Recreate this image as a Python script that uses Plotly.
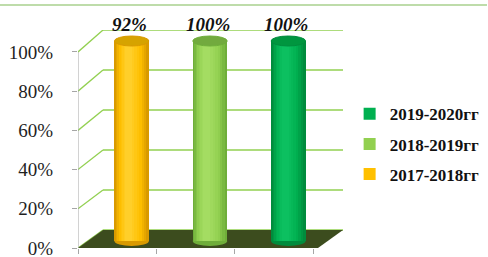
import plotly.graph_objects as go

# ---- data ----
SERIES = ["2017-2018гг", "2018-2019гг", "2019-2020гг"]
BAR_HEIGHTS = [100, 100, 100]          # heights as drawn
LABELS = ["92%", "100%", "100%"]       # data labels as printed
Y_TICKS = [0, 20, 40, 60, 80, 100]
Y_TICK_TEXT = ["0%", "20%", "40%", "60%", "80%", "100%"]

# colours: (edge, main, highlight, top)
COLORS = [
    ("#d99a00", "#ffc000", "#ffcf2a", "#d6a300"),
    ("#6fae3a", "#92d050", "#a4dc62", "#72aa3e"),
    ("#008c3d", "#00b050", "#0cc060", "#00963f"),
]
GRID = "#92d050"
FLOOR = "#3c4c1e"

W, H = 488, 257
ML, MR, MT, MB = 78, 145, 30, 9
PW, PH = W - ML - MR, H - MT - MB

# depth geometry (axis units)
DX = 0.319          # back-wall x shift
BACK0 = 9.18        # back-wall y of 0 %
BACK_K = 1.0204     # back-wall scale
X_MIN, X_MAX = -0.5, 2.883
FRONT_RIGHT = X_MAX - DX
BAR_SHIFT = 0.185
BAR_W = 0.44
ELL_H = 2.5
N_SHADES = 8


def mix(c1, c2, t):
    a = [int(c1[k:k + 2], 16) for k in (1, 3, 5)]
    b = [int(c2[k:k + 2], 16) for k in (1, 3, 5)]
    return "#" + "".join(f"{round(x + (y - x) * t):02x}" for x, y in zip(a, b))


fig = go.Figure()

for i, (name, h) in enumerate(zip(SERIES, BAR_HEIGHTS)):
    edge, main, hi, top = COLORS[i]
    c = i + BAR_SHIFT
    for k in range(N_SHADES):
        t = k / (N_SHADES - 1)
        w = BAR_W * (1 - 0.8 * t)
        col = mix(edge, main, min(1, t * 2.2)) if t < 0.45 else mix(main, hi, (t - 0.45) / 0.55)
        sh = -0.04 * t
        fig.add_trace(go.Bar(
            x=[i], y=[h], width=w, offset=c - i - w / 2 + sh,
            marker=dict(color=col if k else edge, line=dict(width=0)),
            name=name, legendgroup=name, showlegend=False,
            yaxis="y2", hoverinfo="skip"))
    fig.add_trace(go.Bar(x=[i], y=[0], width=0.001, marker=dict(color=main, line=dict(width=0)),
                         name=name, legendgroup=name, showlegend=True, legendrank=100 - i,
                         yaxis="y2", hoverinfo="skip"))

shapes = []
for v in Y_TICKS:
    yb = BACK0 + BACK_K * v
    shapes.append(dict(type="line", xref="x", yref="y", x0=X_MIN + DX, x1=X_MAX,
                       y0=yb, y1=yb, line=dict(color=GRID, width=1.3), layer="below"))
    shapes.append(dict(type="line", xref="x", yref="y", x0=X_MIN, x1=X_MIN + DX,
                       y0=v, y1=yb, line=dict(color=GRID, width=1.3), layer="below"))
shapes.append(dict(type="path", xref="x", yref="y",
                   path=f"M{X_MIN},0 L{X_MIN + DX},{BACK0} L{X_MAX},{BACK0} L{FRONT_RIGHT},0 Z",
                   fillcolor=FLOOR, line=dict(width=0), layer="below"))
shapes.append(dict(type="line", xref="x", yref="y", x0=X_MIN, x1=X_MIN, y0=-1, y1=100,
                   line=dict(color="#a6a6a6", width=1), layer="below"))
shapes.append(dict(type="line", xref="x", yref="y", x0=X_MIN, x1=FRONT_RIGHT, y0=-0.5, y1=-0.5,
                   line=dict(color="#a6a6a6", width=1), layer="below"))
for i, h in enumerate(BAR_HEIGHTS):
    edge, main, hi, top = COLORS[i]
    c = i + BAR_SHIFT
    shapes.append(dict(type="circle", xref="x", yref="y2", x0=c - BAR_W / 2, x1=c + BAR_W / 2,
                       y0=-ELL_H, y1=ELL_H, fillcolor=edge, line=dict(width=0), layer="below"))
    shapes.append(dict(type="circle", xref="x", yref="y2", x0=c - BAR_W / 2, x1=c + BAR_W / 2,
                       y0=h - ELL_H, y1=h + ELL_H, fillcolor=top,
                       line=dict(color=edge, width=1), layer="above"))
shapes.append(dict(type="line", xref="paper", yref="paper",
                   x0=-ML / PW, x1=(W - ML - 1) / PW,
                   y0=(H - MB - 5) / PH, y1=(H - MB - 5) / PH,
                   line=dict(color="#a9d18e", width=1.5)))

annotations = []
for i, (h, t) in enumerate(zip(BAR_HEIGHTS, LABELS)):
    annotations.append(dict(x=i + BAR_SHIFT - 0.03, y=h, xref="x", yref="y2", text=t,
                            showarrow=False, yanchor="bottom", yshift=4,
                            font=dict(family="Liberation Serif", size=19, color="#111111",
                                      weight="bold", style="italic")))

fig.update_layout(
    width=W, height=H,
    margin=dict(l=ML, r=MR, t=MT, b=MB, autoexpand=False),
    paper_bgcolor="white", plot_bgcolor="rgba(0,0,0,0)",
    barmode="overlay", bargap=0,
    xaxis=dict(range=[X_MIN, X_MAX], tickvals=[-0.5, 0.5, 1.5, 2.5], ticks="outside",
               ticklen=5, tickcolor="#a6a6a6", showticklabels=False, showgrid=False,
               zeroline=False, showline=False, automargin=False),
    yaxis=dict(range=[0, 111.22], tickvals=Y_TICKS, ticktext=Y_TICK_TEXT, ticks="outside",
               ticklen=5, tickcolor="#a6a6a6", ticklabelstandoff=15, showgrid=False,
               zeroline=False, showline=False, automargin=False, ticklabeloverflow="allow",
               tickfont=dict(family="Liberation Serif", size=19, color="#1f1f1f")),
    yaxis2=dict(range=[-3.5, 105.5], overlaying="y", visible=False, automargin=False),
    legend=dict(x=1.025, y=0.696, xanchor="left", yanchor="top",
                font=dict(family="Liberation Serif", size=17, color="#111111", weight="bold"),
                tracegroupgap=5, itemwidth=30, bgcolor="rgba(0,0,0,0)"),
    shapes=shapes, annotations=annotations,
    showlegend=True,
)

fig.write_html("out.html", config={"displayModeBar": False},
               post_script="document.body.style.margin='0';document.documentElement.style.overflow='hidden';")
